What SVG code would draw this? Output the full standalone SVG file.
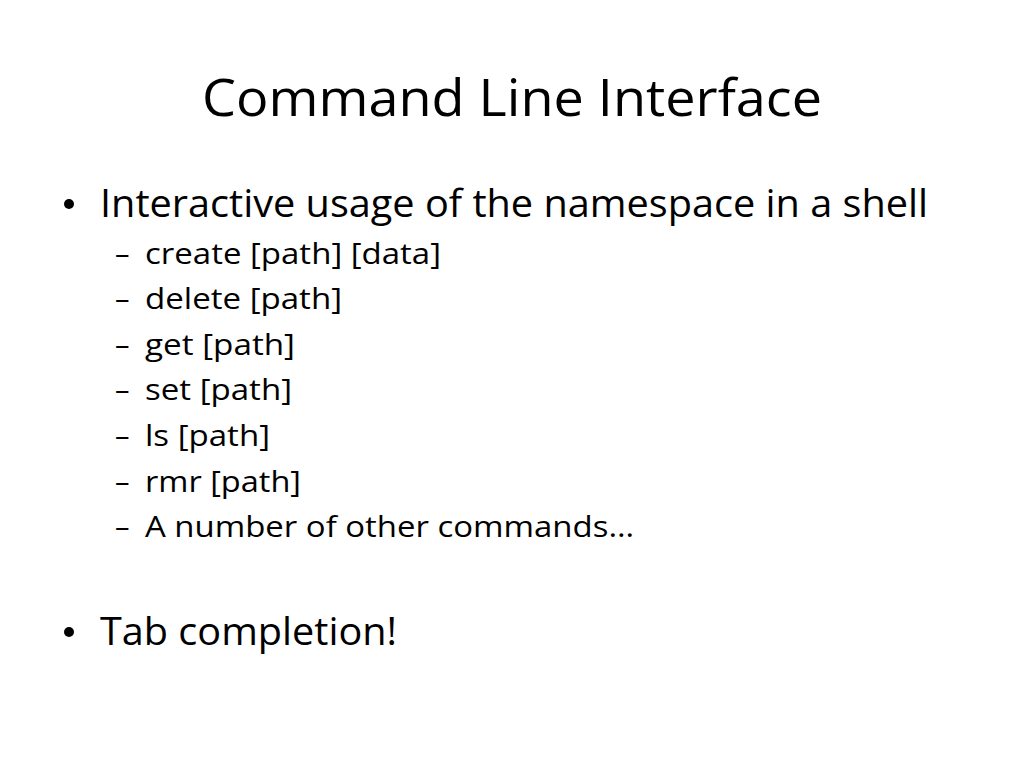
<svg xmlns="http://www.w3.org/2000/svg" width="1024" height="768" viewBox="0 0 1024 768">
<style>
text{font-family:"Open Sans","Noto Sans",sans-serif;fill:#000}
.t{font-size:52px}
.m{font-size:38px}
.s{font-size:29px}
</style>
<rect width="1024" height="768" fill="#fff"/>
<text class="t" x="202" y="116" textLength="620" lengthAdjust="spacingAndGlyphs">Command Line Interface</text>
<circle cx="69" cy="204" r="5"/>
<text class="m" x="100" y="217" textLength="828" lengthAdjust="spacingAndGlyphs">Interactive usage of the namespace in a shell</text>
<g class="s">
<text class="s" x="115" y="264">–</text><text class="s" x="145" y="264" textLength="296" lengthAdjust="spacingAndGlyphs">create [path] [data]</text>
<text class="s" x="115" y="309">–</text><text class="s" x="145" y="309" textLength="197" lengthAdjust="spacingAndGlyphs">delete [path]</text>
<text class="s" x="115" y="355">–</text><text class="s" x="145" y="355" textLength="150" lengthAdjust="spacingAndGlyphs">get [path]</text>
<text class="s" x="115" y="400">–</text><text class="s" x="145" y="400" textLength="147" lengthAdjust="spacingAndGlyphs">set [path]</text>
<text class="s" x="115" y="446">–</text><text class="s" x="145" y="446" textLength="125" lengthAdjust="spacingAndGlyphs">ls [path]</text>
<text class="s" x="115" y="492">–</text><text class="s" x="145" y="492" textLength="156" lengthAdjust="spacingAndGlyphs">rmr [path]</text>
<text class="s" x="115" y="537">–</text><text class="s" x="145" y="537" textLength="489" lengthAdjust="spacingAndGlyphs">A number of other commands…</text>
</g>
<circle cx="69" cy="632" r="5"/>
<text class="m" x="100" y="645" textLength="297" lengthAdjust="spacingAndGlyphs">Tab completion!</text>
</svg>
